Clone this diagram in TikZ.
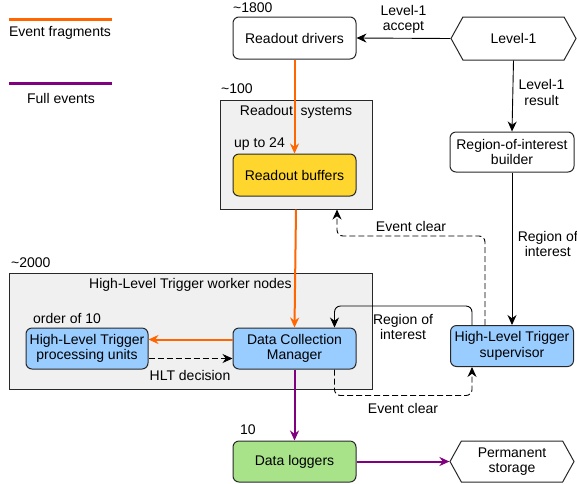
\documentclass[tikz,border=0pt]{standalone}
\usepackage{fontspec}
\setmainfont{Liberation Sans}
\usepackage{tikz}
\usetikzlibrary{positioning}
\usetikzlibrary{shapes,arrows}
\usetikzlibrary{arrows.meta, shapes.symbols}

\definecolor{fragorange}{RGB}{255,102,0}
\definecolor{fullpurple}{RGB}{128,0,128}
\definecolor{boxblue}{RGB}{153,204,255}
\definecolor{boxyellow}{RGB}{255,214,46}
\definecolor{boxgreen}{RGB}{168,227,138}
\definecolor{groupgrey}{RGB}{240,240,240}
\definecolor{edgegrey}{RGB}{40,40,40}

\tikzset{
	unit/.style={draw=edgegrey, line width=1pt, rounded corners=6pt, align=center, inner sep=1pt},
	group/.style={draw=edgegrey, line width=1pt, fill=groupgrey},
	ends/.style={draw=edgegrey, line width=1pt, signal, signal to=west and east, signal pointer angle=122, align=center, inner sep=1pt},
	count/.style={anchor=west, inner sep=0pt},
	tip/.style={-{Stealth[length=10pt, width=9pt]}},
	frag/.style={fragorange, line width=2pt, tip},
	full/.style={fullpurple, line width=2pt, tip},
	ctrl/.style={black, line width=0.9pt, tip},
	clear/.style={ctrl, dashed, dash pattern=on 6pt off 3pt, rounded corners=6pt}
}

\begin{document}
\begin{tikzpicture}[x=1pt, y=-1pt, font=\fontsize{14}{15.5}\selectfont]

	\useasboundingbox (0,0) rectangle (577,483);

	% legend
	\path[draw, fragorange, line width=3pt] (9,19) -- (112,19);
	\node (leg_frag) at (60,33) {Event fragments};
	\path[draw, fullpurple, line width=3pt] (9,83) -- (112,83);
	\node (leg_full) at (61,98) {Full events};

	% groups
	\node (ros) [group, minimum width=152pt, minimum height=109pt] at (296,154.5) {};
	\node (ros_title) [below=2pt of ros.north] {Readout\ \ systems};
	\node (hlt_nodes) [group, minimum width=363pt, minimum height=116pt] at (190.5,331) {};
	\node (hlt_title) [below=2pt of hlt_nodes.north] {High-Level Trigger worker nodes};

	% units
	\node (drivers) [unit, fill=white, minimum width=123pt, minimum height=42pt] at (294.5,38) {Readout drivers};
	\node (level1) [ends, fill=white, minimum width=125pt, minimum height=43pt] at (513.5,38.5) {Level-1};
	\node (roib) [unit, fill=white, minimum width=124pt, minimum height=40pt] at (512,152) {Region-of-interest\\builder};
	\node (buffers) [unit, fill=boxyellow, minimum width=123pt, minimum height=42pt] at (294.5,175) {Readout buffers};
	\node (hltpu) [unit, fill=boxblue, minimum width=122pt, minimum height=41pt] at (87,348.5) {High-Level Trigger\\processing units};
	\node (dcm) [unit, fill=boxblue, minimum width=123pt, minimum height=41pt] at (294.5,348.5) {Data Collection\\Manager};
	\node (hltsv) [unit, fill=boxblue, minimum width=123pt, minimum height=41pt] at (512,346) {High-Level Trigger\\supervisor};
	\node (loggers) [unit, fill=boxgreen, minimum width=123pt, minimum height=41pt] at (294.5,461.5) {Data loggers};
	\node (storage) [ends, fill=white, minimum width=124pt, minimum height=41pt] at (512,461.5) {Permanent\\storage};

	% counts
	\node (n_drivers) [count] at (233,8) {\textasciitilde1800};
	\node (n_ros) [count] at (221,89) {\textasciitilde100};
	\node (n_buffers) [count] at (234,144) {up to 24};
	\node (n_nodes) [count] at (11,263) {\textasciitilde2000};
	\node (n_pu) [count] at (33,318) {order of 10};
	\node (n_loggers) [count] at (240,430) {10};

	% data flow
	\path[draw, frag] (drivers.south) -- (buffers.north);
	\path[draw, frag] (ros.south) -- (dcm.north);
	\path[draw, frag] ([yshift=9pt]dcm.west) -- ([yshift=9pt]hltpu.east);
	\path[draw, full] (dcm.south) -- (loggers.north);
	\path[draw, full] (loggers.east) -- (storage.west);

	% control
	\path[draw, ctrl] (level1.west) -- node[above=1pt, align=center] {Level-1\\accept} (drivers.east);
	\path[draw, ctrl] (level1.south) -- node[right=2pt, align=center, pos=0.45] {Level-1\\result} (roib.north);
	\path[draw, ctrl] (roib.south) -- node[right=2pt, align=center, pos=0.47] {Region of\\interest} (hltsv.north);
	\path[draw, ctrl, rounded corners=6pt] ([xshift=-40pt]hltsv.north) -- ++(0,-19) -| ([xshift=40pt]dcm.north);
	\node (roi_dcm) [align=center] at (403,327) {Region of\\interest};
	\path[draw, clear] ([yshift=-10pt]hltpu.east) -- ([yshift=-10pt]dcm.west);
	\node (hlt_dec) at (190,375) {HLT decision};
	\path[draw, clear] ([xshift=40pt]dcm.south) -- ++(0,26) -| ([xshift=-40pt]hltsv.south);
	\node (clear_low) at (403,408) {Event clear};
	\path[draw, clear] ([xshift=-27pt]hltsv.north) -- ++(0,-89) -| ([xshift=41pt]ros.south);
	\node (clear_up) at (411,226) {Event clear};

\end{tikzpicture}
\end{document}
